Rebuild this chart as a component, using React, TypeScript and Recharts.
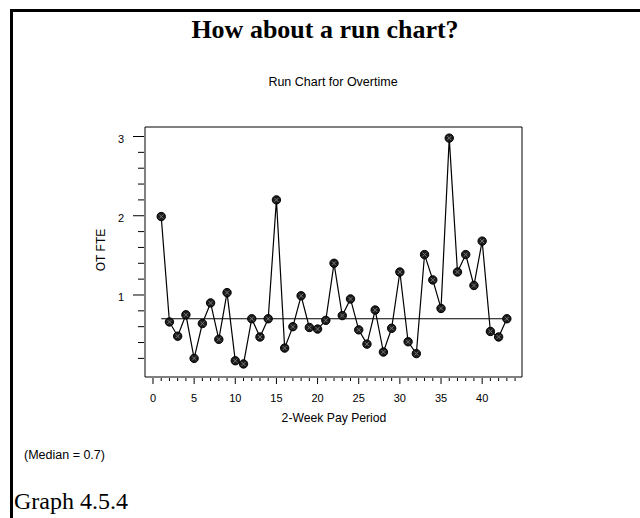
import React from "react";
import {
  LineChart,
  Line,
  XAxis,
  YAxis,
  ReferenceLine,
  ReferenceArea,
} from "recharts";

// 2-week pay periods 1..43
const periods = [
  1, 2, 3, 4, 5, 6, 7, 8, 9, 10, 11, 12, 13, 14, 15, 16, 17, 18, 19, 20, 21,
  22, 23, 24, 25, 26, 27, 28, 29, 30, 31, 32, 33, 34, 35, 36, 37, 38, 39, 40,
  41, 42, 43,
];

// overtime FTE per period
const otFte = [
  1.99, 0.66, 0.48, 0.75, 0.2, 0.64, 0.9, 0.44, 1.03, 0.17, 0.13, 0.7, 0.47,
  0.7, 2.2, 0.33, 0.6, 0.99, 0.59, 0.57, 0.68, 1.4, 0.74, 0.95, 0.56, 0.38,
  0.81, 0.28, 0.58, 1.29, 0.41, 0.26, 1.51, 1.19, 0.83, 2.98, 1.29, 1.51, 1.12,
  1.68, 0.54, 0.47, 0.7,
];

const median = 0.7;

const xTicks = [
  0, 1, 2, 3, 4, 5, 6, 7, 8, 9, 10, 11, 12, 13, 14, 15, 16, 17, 18, 19, 20, 21,
  22, 23, 24, 25, 26, 27, 28, 29, 30, 31, 32, 33, 34, 35, 36, 37, 38, 39, 40,
  41, 42, 43, 44,
];
const yTicks = [
  0.2, 0.4, 0.6, 0.8, 1, 1.2, 1.4, 1.6, 1.8, 2, 2.2, 2.4, 2.6, 2.8, 3,
];

const xDomain: [number, number] = [-0.97, 44.84];
const yDomain: [number, number] = [-0.035, 3.12];

const data = periods.map((p, i) => ({ period: p, ot: otFte[i] }));

const sans = '"Liberation Sans", Arial, sans-serif';
const serif = '"Liberation Serif", "Times New Roman", serif';

function XTick(props: any) {
  const { x, y, payload } = props;
  const major = payload.value % 5 === 0;
  return (
    <g>
      <line x1={x} x2={x} y1={y + 1} y2={y + (major ? 7 : 4)} stroke="#000" />
      {major ? (
        <text
          x={x}
          y={y + 25}
          textAnchor="middle"
          fontSize={11}
          fontFamily={sans}
          fill="#000"
        >
          {payload.value}
        </text>
      ) : null}
    </g>
  );
}

function YTick(props: any) {
  const { x, y, payload } = props;
  const major = Number.isInteger(payload.value);
  return (
    <g>
      <line x1={x - 1} x2={x - (major ? 12 : 7)} y1={y} y2={y} stroke="#000" />
      {major ? (
        <text
          x={x - 21}
          y={y + 6}
          textAnchor="end"
          fontSize={11}
          fontFamily={sans}
          fill="#000"
        >
          {payload.value}
        </text>
      ) : null}
    </g>
  );
}

function Marker(props: any) {
  const { cx, cy } = props;
  if (cx == null || cy == null) return null;
  return (
    <g>
      <circle cx={cx} cy={cy} r={4.2} fill="#1c1c1c" stroke="#000" />
      <line x1={cx - 2} y1={cy - 2} x2={cx + 2} y2={cy + 2} stroke="#777" strokeWidth={1} />
      <line x1={cx - 2} y1={cy + 2} x2={cx + 2} y2={cy - 2} stroke="#777" strokeWidth={1} />
    </g>
  );
}

export default function App() {
  return (
    <div
      style={{
        position: "absolute",
        left: 0,
        top: 0,
        width: 640,
        height: 518,
        overflow: "hidden",
        background: "#fff",
      }}
    >
      <div
        style={{
          position: "absolute",
          left: 10,
          top: 9,
          width: 660,
          height: 540,
          borderTop: "3px solid #000",
          borderLeft: "3px solid #000",
        }}
      />
      <div
        style={{
          position: "absolute",
          left: 325,
          top: 16,
          transform: "translateX(-50%)",
          whiteSpace: "nowrap",
          fontFamily: serif,
          fontWeight: "bold",
          fontSize: 26,
          lineHeight: "28px",
        }}
      >
        How about a run chart?
      </div>
      <div
        style={{
          position: "absolute",
          left: 333,
          top: 74,
          transform: "translateX(-50%)",
          whiteSpace: "nowrap",
          fontFamily: sans,
          fontSize: 12.5,
          lineHeight: "16px",
        }}
      >
        Run Chart for Overtime
      </div>
      <div
        style={{
          position: "absolute",
          left: 101,
          top: 250,
          transform: "translate(-50%, -50%) rotate(-90deg)",
          whiteSpace: "nowrap",
          fontFamily: sans,
          fontSize: 12,
          lineHeight: "14px",
        }}
      >
        OT FTE
      </div>
      <div
        style={{
          position: "absolute",
          left: 334,
          top: 410,
          transform: "translateX(-50%)",
          whiteSpace: "nowrap",
          fontFamily: sans,
          fontSize: 12.2,
          lineHeight: "16px",
        }}
      >
        2-Week Pay Period
      </div>
      <div
        style={{
          position: "absolute",
          left: 24,
          top: 447,
          whiteSpace: "nowrap",
          fontFamily: sans,
          fontSize: 12.5,
          lineHeight: "16px",
        }}
      >
        (Median = {median})
      </div>
      <div
        style={{
          position: "absolute",
          left: 14,
          top: 488,
          whiteSpace: "nowrap",
          fontFamily: serif,
          fontSize: 24,
          lineHeight: "26px",
        }}
      >
        Graph 4.5.4
      </div>

      <div style={{ position: "absolute", left: 0, top: 0 }}>
        <LineChart
          width={640}
          height={518}
          data={data}
          margin={{ top: 127, right: 118, left: 105, bottom: 101 }}
        >
          <XAxis
            dataKey="period"
            type="number"
            domain={xDomain}
            ticks={xTicks}
            interval={0}
            allowDataOverflow
            height={40}
            axisLine={false}
            tickLine={false}
            tickSize={0}
            tickMargin={0}
            tick={<XTick />}
          />
          <YAxis
            type="number"
            domain={yDomain}
            ticks={yTicks}
            interval={0}
            allowDataOverflow
            width={40}
            axisLine={false}
            tickLine={false}
            tickSize={0}
            tickMargin={0}
            tick={<YTick />}
          />
          <ReferenceArea
            x1={xDomain[0]}
            x2={xDomain[1]}
            y1={yDomain[0]}
            y2={yDomain[1]}
            fill="none"
            fillOpacity={0}
            stroke="#000"
            strokeWidth={1}
          />
          <ReferenceLine
            segment={[
              { x: periods[0], y: median },
              { x: periods[periods.length - 1], y: median },
            ]}
            stroke="#000"
            strokeWidth={1.2}
          />
          <Line
            dataKey="ot"
            stroke="#000"
            strokeWidth={1.2}
            dot={<Marker />}
            activeDot={false}
            isAnimationActive={false}
          />
        </LineChart>
      </div>
    </div>
  );
}
